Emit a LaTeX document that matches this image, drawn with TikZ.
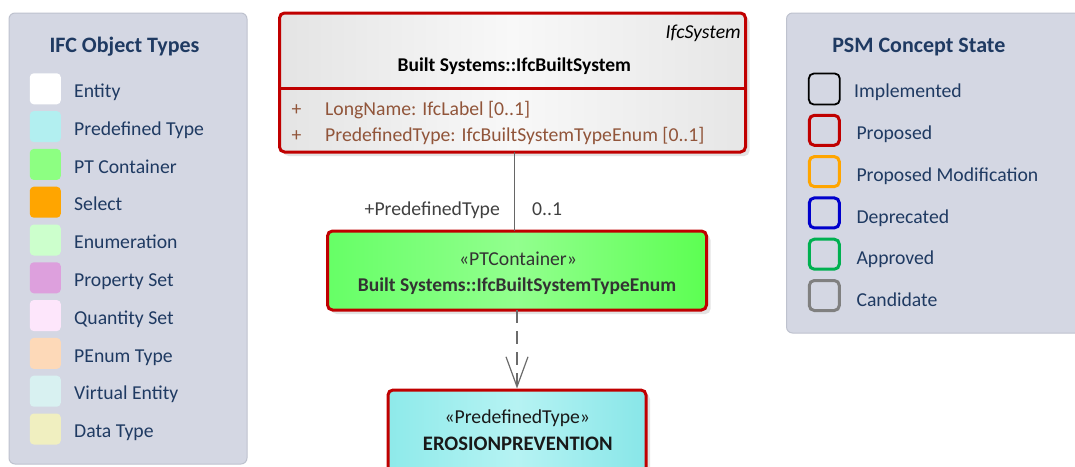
\documentclass[tikz,border=0pt]{standalone}
\usepackage{fontspec}
\setmainfont{Carlito}
\usetikzlibrary{arrows.meta,shadows}
\definecolor{panel}{HTML}{D4D7E3}
\definecolor{panelborder}{HTML}{BEC2CE}
\definecolor{navy}{HTML}{1F3A62}
\definecolor{propred}{HTML}{C00000}
\definecolor{attr}{HTML}{91553A}
\definecolor{lblgray}{HTML}{404040}
\definecolor{boxtext}{HTML}{333333}
\definecolor{cEntity}{HTML}{FFFFFF}
\definecolor{cPredef}{HTML}{B2EFF0}
\definecolor{cPTC}{HTML}{8DFF82}
\definecolor{cSelect}{HTML}{FFA500}
\definecolor{cEnum}{HTML}{CCFFCC}
\definecolor{cPSet}{HTML}{DDA0DD}
\definecolor{cQSet}{HTML}{FDE6FB}
\definecolor{cPEnum}{HTML}{FDD9B8}
\definecolor{cVirt}{HTML}{D8F1F1}
\definecolor{cData}{HTML}{F0EFC0}
\definecolor{sOrange}{HTML}{FFA500}
\definecolor{sBlue}{HTML}{0000CC}
\definecolor{sGreen}{HTML}{00B050}
\definecolor{sGray}{HTML}{808080}
\definecolor{gL}{HTML}{66FF66}
\definecolor{gM}{HTML}{92FF8E}
\definecolor{gR}{HTML}{5CFF52}
\definecolor{cyL}{HTML}{8EEAEA}
\definecolor{cyM}{HTML}{B6F3F3}
\definecolor{cyR}{HTML}{88E6E8}
\definecolor{hdL}{HTML}{E4E4E4}
\definecolor{hdM}{HTML}{F8F8F8}
\definecolor{hdR}{HTML}{E6E6E6}
\begin{document}
\begin{tikzpicture}[x=1pt,y=-1pt,
  panelbox/.style={draw=panelborder, fill=panel, line width=1pt, rounded corners=6pt, inner sep=0pt, outer sep=0pt, anchor=north west},
  swatch/.style={minimum width=31pt, minimum height=31pt, rounded corners=4pt, inner sep=0pt, outer sep=0pt},
  statebox/.style={draw=#1, minimum width=30pt, minimum height=30pt, rounded corners=5pt, inner sep=0pt, line width=3pt},
  legtext/.style={anchor=base west, text=navy, font=\fontsize{19.7}{22}\selectfont, inner sep=0pt},
  legtitle/.style={anchor=base, text=navy, font=\fontsize{22}{25}\selectfont\bfseries, inner sep=0pt},
  umlbox/.style={draw=propred, line width=3pt, rounded corners=5pt, inner sep=0pt, outer sep=0pt, anchor=north west,
     drop shadow={shadow xshift=4pt, shadow yshift=-4pt, fill=black!22, draw=none}},
  umltext/.style={inner sep=0pt, font=\fontsize{19.7}{22}\selectfont},
  umlbold/.style={inner sep=0pt, font=\fontsize{19.5}{22}\selectfont\bfseries},
  assoc/.style={draw=black!60, line width=1pt},
  dep/.style={draw=black!58, line width=1.2pt, dash pattern=on 13pt off 8pt, -{Straight Barb[length=30pt,width=22pt,line width=1.2pt]}}
]
\useasboundingbox (0,0) rectangle (1075,466);

% ---------- IFC Object Types legend ----------
\node[panelbox, minimum width=238pt, minimum height=451pt] (ifcpanel) at (9,13) {};
\node[legtitle] (ifctitle) at (124.5,52.7) {IFC Object Types};
\foreach \i/\c/\t in {0/cEntity/Entity, 1/cPredef/Predefined Type, 2/cPTC/PT Container, 3/cSelect/Select, 4/cEnum/Enumeration, 5/cPSet/Property Set, 6/cQSet/Quantity Set, 7/cPEnum/PEnum Type, 8/cVirt/Virtual Entity, 9/cData/Data Type}{
  \node[swatch, fill=\c] (sw\i) at (45.3,88.8+37.8*\i) {};
  \node[legtext] (swt\i) at (74,97.5+37.8*\i) {\t};
}

% ---------- PSM Concept State legend ----------
\node[panelbox, minimum width=300pt, minimum height=320pt] (psmpanel) at (786.5,13) {};
\node[legtitle] (psmtitle) at (918.8,52.7) {PSM Concept State};
\node[statebox=black, line width=1.8pt, minimum width=31pt, minimum height=31pt] (st0) at (824.3,89) {};
\node[legtext] (stt0) at (854,97.3) {Implemented};
\foreach \i/\c/\t in {1/propred/Proposed, 2/sOrange/Proposed Modification, 3/sBlue/Deprecated, 4/sGreen/Approved, 5/sGray/Candidate}{
  \node[statebox=\c] (st\i) at (824.3,89+41.3*\i) {};
  \node[legtext] (stt\i) at (856.3,97.3+41.9*\i) {\t};
}

% ---------- IfcBuiltSystem class ----------
\node[umlbox, minimum width=466pt, minimum height=139pt, left color=hdL, right color=hdR, middle color=hdM] (cls) at (279.5,13) {};
\coordinate (divy) at (0,88.5);
\draw[propred, line width=3pt] (cls.west |- divy) -- (cls.east |- divy);
\node[umltext, anchor=base east, font=\fontsize{19.7}{22}\selectfont\itshape] (clsstereo) at (741,38.5) {IfcSystem};
\node[umlbold, anchor=base] (clsname) at (514.3,71.7) {Built Systems::IfcBuiltSystem};
\node[umltext, anchor=base west, text=attr] (a1p) at (291.5,115) {+};
\node[umltext, anchor=base west, text=attr] (a1) at (325,115) {LongName: IfcLabel [0..1]};
\node[umltext, anchor=base west, text=attr] (a2p) at (291.5,141.5) {+};
\node[umltext, anchor=base west, text=attr] (a2) at (325,141.5) {PredefinedType: IfcBuiltSystemTypeEnum [0..1]};

% ---------- PT container ----------
\node[umlbox, minimum width=379pt, minimum height=79pt, left color=gL, right color=gR, middle color=gM] (ptc) at (327.5,231) {};
\node[umltext, anchor=base, text=boxtext] (ptcstereo) at (518,265) {«PTContainer»};
\node[umlbold, anchor=base, text=boxtext] (ptcname) at (517,291) {Built Systems::IfcBuiltSystemTypeEnum};

% ---------- Predefined type ----------
\node[umlbox, minimum width=258pt, minimum height=90pt, left color=cyL, right color=cyR, middle color=cyM] (pdt) at (388,390) {};
\node[umltext, anchor=base, text=black!90] (pdtstereo) at (517.3,423.3) {«PredefinedType»};
\node[umlbold, anchor=base, text=black!90, font=\fontsize{20.6}{23}\selectfont\bfseries] (pdtname) at (517.8,450) {EROSIONPREVENTION};

% ---------- connectors ----------
\coordinate (cx) at (514.5,0);
\draw[assoc] (cls.south -| cx) -- (ptc.north -| cx);
\node[umltext, anchor=base east, text=lblgray] (role) at (500,215) {+PredefinedType};
\node[umltext, anchor=base west, text=lblgray] (mult) at (532,215) {0..1};
\draw[dep, shorten >=1.5pt] (ptc.south) -- (pdt.north);
\end{tikzpicture}
\end{document}
